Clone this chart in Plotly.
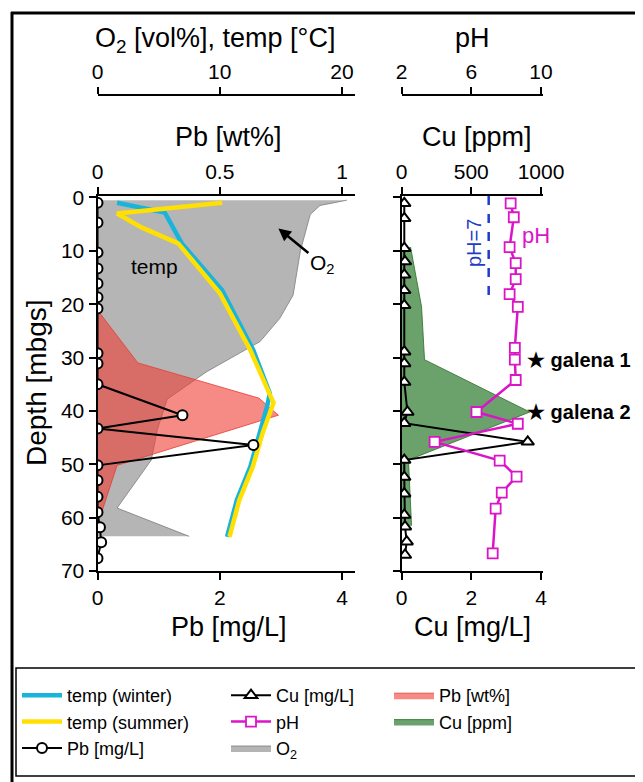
import plotly.graph_objects as go

# ---------------- data ----------------
# Left panel
o2_depth = [0.5, 1.5, 3.2, 10, 18.3, 22.7, 27, 32.7, 37.8, 43.5, 49.2, 58.2, 63.5]
o2_vol = [20.4, 18.2, 17.4, 16.6, 16.0, 14.9, 13.3, 8.9, 5.7, 4.9, 4.4, 1.6, 7.5]

pbwt_depth = [21.7, 31.0, 37.6, 40.8, 50.2, 58.6]
pbwt_val = [0.01, 0.165, 0.66, 0.74, 0.08, 0.02]

tsum_depth = [1.0, 3.0, 5.6, 8.6, 17.9, 28.6, 38.5, 44.2, 50.5, 56.7, 63.6]
tsum_val = [10.2, 1.6, 3.6, 6.6, 10.0, 12.5, 14.4, 13.5, 12.7, 11.6, 10.8]

twin_depth = [1.0, 2.8, 8.6, 17.4, 28.6, 36.7, 38.9, 44.2, 50.5, 56.7, 63.6]
twin_val = [1.6, 5.5, 6.9, 10.2, 12.75, 14.1, 13.9, 13.3, 12.5, 11.4, 10.6]

pbmg_depth = [1, 4.7, 10.3, 13.3, 16.1, 18.7, 20.8, 29.2, 31.1, 35, 40.8, 43.3,
              46.4, 50.2, 53, 56.1, 59, 61.8, 64.6, 67.6]
pbmg_val = [0, 0, 0, 0, 0, 0, 0, 0, 0, 0, 1.39, 0,
            2.55, 0, 0, 0, 0, 0.04, 0.06, 0]

# Right panel
cuppm_depth = [9.3, 20.5, 30.4, 40.2, 49.2, 61.5]
cuppm_val = [65, 144, 165, 920, 50, 72]

cumg_depth = [1.1, 3.9, 9.5, 12, 14.5, 17.4, 20.2, 28.9, 31.1, 34.6, 40.2, 42.3,
              45.8, 49.2, 52.4, 55.5, 59.5, 61.7, 64.5, 67]
cumg_val = [0.08, 0.08, 0.08, 0.1, 0.08, 0.08, 0.08, 0.08, 0.08, 0.08, 0.17, 0.08,
            3.62, 0.08, 0.08, 0.08, 0.08, 0.1, 0.15, 0.1]

ph_depth = [1.1, 3.7, 9.3, 12.3, 15.3, 18.1, 20.5, 28.2, 30.4, 34.2, 40.2, 42.4,
            45.8, 49.3, 52.3, 55.3, 58.3, 66.7]
ph_val = [8.26, 8.44, 8.2, 8.55, 8.55, 8.2, 8.67, 8.5, 8.5, 8.55, 6.3, 8.67,
          3.9, 7.63, 8.6, 7.75, 7.4, 7.23]

ph7_depth = [-0.3, 18.3]
ph7_val = [7, 7]

galena_depth = [30.4, 40.2]
galena_labels = ["galena 1", "galena 2"]

depth_ticks = [0, 10, 20, 30, 40, 50, 60, 70]

# ---------------- layout helpers ----------------
OFF = 8                     # page body margin
W, H = 643 - OFF, 782 - OFF
FONT = "Liberation Sans, Arial, Helvetica, sans-serif"


def px(p):
    return (p - OFF) / W


def py(p):
    return 1 - (p - OFF) / H


L0, L1 = 97.5, 355
R0, R1 = 401.5, 543
TOP, BOT = 196, 571
TOPAX = 95

CYAN = "#19B4DC"
YELLOW = "#FFE000"
MAGENTA = "#DC14C8"
BLUE = "#1E3CC8"

fig = go.Figure()

# left panel traces (draw order: O2 fill, Pb wt% fill, temp lines, Pb mg/L)
fig.add_trace(go.Scatter(x=o2_vol, y=o2_depth, xaxis="x", yaxis="y", mode="lines",
                         fill="tozerox", fillcolor="rgba(150,150,150,0.7)",
                         line=dict(color="rgba(125,125,125,0.8)", width=1),
                         name="O<sub>2</sub>", legend="legend2", legendrank=3))
fig.add_trace(go.Scatter(x=pbwt_val, y=pbwt_depth, xaxis="x3", yaxis="y", mode="lines",
                         fill="tozerox", fillcolor="rgba(240,60,50,0.6)",
                         line=dict(color="rgba(230,60,50,0.8)", width=1),
                         name="Pb [wt%]", legend="legend3", legendrank=1))
fig.add_trace(go.Scatter(x=twin_val, y=twin_depth, xaxis="x5", yaxis="y", mode="lines",
                         line=dict(color=CYAN, width=4.5),
                         name="temp (winter)", legend="legend", legendrank=1))
fig.add_trace(go.Scatter(x=tsum_val, y=tsum_depth, xaxis="x5", yaxis="y", mode="lines",
                         line=dict(color=YELLOW, width=4.5),
                         name="temp (summer)", legend="legend", legendrank=2))
fig.add_trace(go.Scatter(x=pbmg_val, y=pbmg_depth, xaxis="x7", yaxis="y", mode="lines+markers",
                         line=dict(color="black", width=2),
                         marker=dict(symbol="circle", size=10, color="white",
                                     line=dict(color="black", width=2)),
                         name="Pb [mg/L]", legend="legend", legendrank=3))

# right panel traces
fig.add_trace(go.Scatter(x=ph7_val, y=ph7_depth, xaxis="x2", yaxis="y2", mode="lines",
                         line=dict(color=BLUE, width=2.5, dash="dash"), showlegend=False))
fig.add_trace(go.Scatter(x=cuppm_val, y=cuppm_depth, xaxis="x4", yaxis="y2", mode="lines",
                         fill="tozerox", fillcolor="rgba(50,125,50,0.72)",
                         line=dict(color="rgba(40,110,40,0.8)", width=1),
                         name="Cu [ppm]", legend="legend3", legendrank=2))
fig.add_trace(go.Scatter(x=cumg_val, y=cumg_depth, xaxis="x6", yaxis="y2", mode="lines+markers",
                         line=dict(color="black", width=2),
                         marker=dict(symbol="triangle-up", size=11, color="white",
                                     line=dict(color="black", width=2)),
                         name="Cu [mg/L]", legend="legend2", legendrank=1))
fig.add_trace(go.Scatter(x=ph_val, y=ph_depth, xaxis="x8", yaxis="y2", mode="lines+markers",
                         line=dict(color=MAGENTA, width=2.5),
                         marker=dict(symbol="square", size=10, color="white",
                                     line=dict(color=MAGENTA, width=1.8)),
                         name="pH", legend="legend2", legendrank=2))

axbase = dict(showline=True, linecolor="black", linewidth=2, ticks="outside", ticklen=7,
              tickwidth=2, tickcolor="black", tickfont=dict(size=21, color="black", family=FONT),
              showgrid=False, zeroline=False, automargin=False)

ld = [px(L0), px(L1)]
rd = [px(R0), px(R1)]
yd = [py(BOT), py(TOP)]
yrange = [70, -0.28]
pb_max = (L1 - 98) / 61.0
cu_max = (R1 - 402) / 34.75

fig.update_layout(
    width=W, height=H, margin=dict(l=0, r=0, t=0, b=0, pad=0, autoexpand=False),
    paper_bgcolor="white", plot_bgcolor="rgba(0,0,0,0)",
    font=dict(family=FONT, color="black"),
    xaxis=dict(domain=ld, anchor="free", position=py(TOPAX), side="top",
               range=[0, pb_max * 5], tickvals=[0, 10, 20], **axbase),
    xaxis3=dict(overlaying="x", anchor="y", side="top", range=[0, pb_max / 4],
                tickvals=[0, 0.5, 1], ticktext=["0", "0.5", "1"], **axbase),
    xaxis5=dict(overlaying="x", anchor="y", visible=False, range=[0, pb_max * 5]),
    xaxis7=dict(overlaying="x", anchor="y", side="bottom", range=[0, pb_max],
                tickvals=[0, 2, 4], **axbase),
    yaxis=dict(domain=yd, anchor="x", range=yrange, tickvals=depth_ticks, **axbase),
    xaxis2=dict(domain=rd, anchor="free", position=py(TOPAX), side="top",
                range=[2, 2 + cu_max * 2], tickvals=[2, 6, 10], **axbase),
    xaxis4=dict(overlaying="x2", anchor="y2", side="top", range=[0, cu_max * 250],
                tickvals=[0, 500, 1000], **axbase),
    xaxis6=dict(overlaying="x2", anchor="y2", side="bottom", range=[0, cu_max],
                tickvals=[0, 2, 4], **axbase),
    xaxis8=dict(overlaying="x2", anchor="y2", visible=False, range=[2, 2 + cu_max * 2]),
    yaxis2=dict(domain=yd, anchor="x2", range=yrange, tickvals=depth_ticks,
                showticklabels=False, **axbase),
    showlegend=True,
)

leg = dict(orientation="v", font=dict(size=18, family=FONT, color="black"), itemwidth=40,
           bgcolor="rgba(0,0,0,0)", borderwidth=0, tracegroupgap=0,
           xanchor="left", yanchor="top", y=py(677), traceorder="normal")
fig.update_layout(legend=dict(x=px(17), **leg),
                  legend2=dict(x=px(226), **leg),
                  legend3=dict(x=px(389), **leg))

ann = []
tfont = dict(size=27, family=FONT, color="black")


def title_ann(text, x, y, **kw):
    d = dict(text=text, xref="paper", yref="paper", x=px(x), y=py(y), xanchor="center",
             yanchor="middle", showarrow=False, font=tfont)
    d.update(kw)
    return d


ann.append(title_ann("O<sub>2</sub> [vol%], temp [°C]", 215, 40))
ann.append(title_ann("pH", 472, 38))
ann.append(title_ann("Pb [wt%]", 228, 137))
ann.append(title_ann("Cu [ppm]", 477, 137))
ann.append(title_ann("Pb [mg/L]", 229, 627))
ann.append(title_ann("Cu [mg/L]", 472, 627))
ann.append(title_ann("Depth [mbgs]", 36, 383, textangle=-90,
                     font=dict(size=28, family=FONT, color="black")))
# in-plot labels
ann.append(dict(text="temp", xref="x", yref="y", x=4.7, y=12.9, showarrow=False,
                xanchor="center", yanchor="middle",
                font=dict(size=21, family=FONT, color="black")))
ann.append(dict(text="O<sub>2</sub>", xref="x", yref="y", x=14.8, y=5.8, ax=44, ay=36,
                showarrow=True, arrowhead=2, arrowsize=1, arrowwidth=2.5, arrowcolor="black",
                font=dict(size=21, family=FONT, color="black")))
ann.append(dict(text="pH=7", xref="x2", yref="y2", x=6.2, y=8.6, showarrow=False,
                xanchor="center", yanchor="middle",
                textangle=-90, font=dict(size=20, family=FONT, color=BLUE)))
ann.append(dict(text="pH", xref="x2", yref="y2", x=9.7, y=7.2, showarrow=False,
                xanchor="center", yanchor="middle",
                font=dict(size=22, family=FONT, color=MAGENTA)))
for d, lab in zip(galena_depth, galena_labels):
    ann.append(dict(text="<b>★ " + lab + "</b>", xref="x2", yref="y2", x=9.1, y=d,
                    xanchor="left", yanchor="middle", showarrow=False,
                    font=dict(size=20, family=FONT, color="black")))
fig.update_layout(annotations=ann)

# frame and legend box
shapes = [
    dict(type="line", xref="paper", yref="paper", x0=px(12), x1=px(12), y0=py(12), y1=py(782),
         line=dict(color="black", width=3)),
    dict(type="line", xref="paper", yref="paper", x0=px(11), x1=px(643), y0=py(13), y1=py(13),
         line=dict(color="black", width=3)),
    dict(type="line", xref="paper", yref="paper", x0=px(640), x1=px(640), y0=py(13), y1=py(782),
         line=dict(color="#999999", width=1.5)),
    dict(type="rect", xref="paper", yref="paper", x0=px(16), x1=px(637), y0=py(668), y1=py(776),
         line=dict(color="black", width=1.5)),
]
fig.update_layout(shapes=shapes)

fig.write_html("out.html")
